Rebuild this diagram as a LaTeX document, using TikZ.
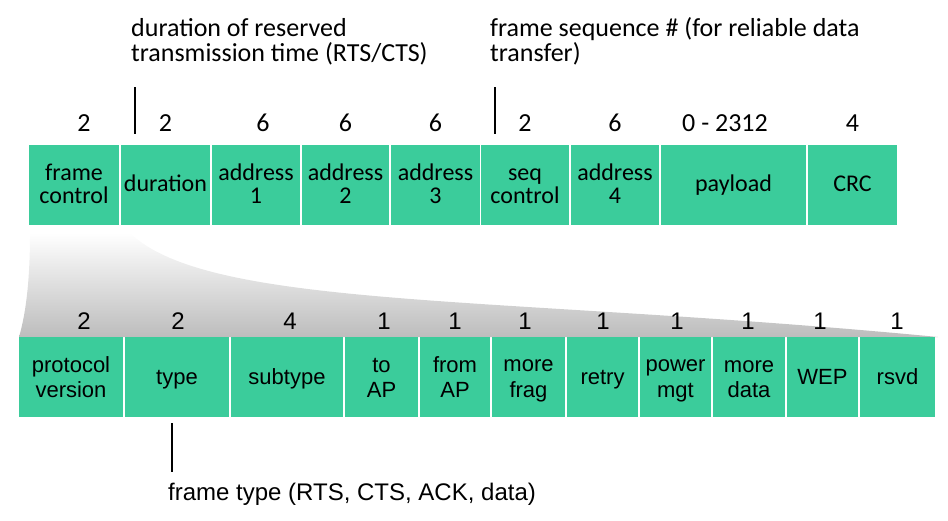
\documentclass[tikz,border=0pt]{standalone}
\usepackage{fontspec}
\setmainfont{Carlito}
\newfontfamily\arialfont{Liberation Sans}
\usepackage{tikz}
\usetikzlibrary{positioning}
\usepackage{xcolor}
\definecolor{fieldgreen}{RGB}{59,204,155}
\newcommand\topstrut{\rule[-5pt]{0pt}{23pt}}
\newcommand\botstrut{\rule[-4.5pt]{0pt}{24.5pt}}

\begin{document}
\begin{tikzpicture}[x=1pt, y=-1pt,
    topfield/.style={fill=fieldgreen, inner sep=0, minimum height=80pt, align=center,
        font=\fontsize{24}{23}\selectfont\let\fs\topstrut, execute at end node=\topstrut},
    botfield/.style={fill=fieldgreen, inner sep=0, minimum height=80pt, align=center,
        font=\arialfont\fontsize{22}{25.5}\selectfont\let\fs\botstrut, execute at end node=\botstrut},
    toplen/.style={anchor=base, inner sep=0, font=\fontsize{26}{26}\selectfont},
    botlen/.style={anchor=base, inner sep=0, font=\arialfont\fontsize{24}{24}\selectfont},
    note/.style={anchor=base west, inner sep=0, align=left, font=\fontsize{26}{25}\selectfont}]
    \useasboundingbox (0,0) rectangle (948,520);
    \shade[top color=white, bottom color=black!26] (30,233) .. controls (30,290) and (24,320) .. (19,337) -- (938,337) .. controls (500,295) and (210,310) .. (130,233) -- cycle;
    \foreach \name/\cx/\w/\txt/\nx/\num in {fc/74/90/{frame\\control}/84/2, dur/165.5/89/duration/165.5/2, ad1/256/88/{address\\1}/263/6, ad2/345.5/87/{address\\2}/345.5/6, ad3/435.5/89/{address\\3}/435.5/6, seq/525/88/{seq\\control}/525/2, ad4/615/88/{address\\4}/615/6, pay/733.5/145/payload/725/{0 - 2312}, crc/852.5/89/CRC/852.5/4}{
        \node[topfield, minimum width=\w pt] (\name) at (\cx,185) {\fs\txt};
        \node[toplen] (\name-len) at (\nx,131) {\num};
    }
    \foreach \name/\cx/\w/\txt/\nx/\num in {pv/71/104/{protocol\\version}/84/2, type/177/104/type/178/2, sub/287/112/subtype/290/4, toap/381.5/73/{to\\AP}/384/1, frap/455/70/{from\\AP}/455/1, mfrag/528.5/73/{more\\frag}/525/1, retry/602.5/71/retry/603/1, pwr/675.5/71/{power\\mgt}/677/1, mdata/749/72/{more\\data}/748/1, wep/822.5/71/WEP/820/1, rsvd/897.5/75/rsvd/897/1}{
        \node[botfield, minimum width=\w pt] (\name) at (\cx,377) {\fs\txt};
        \node[botlen] (\name-len) at (\nx,329) {\num};
    }
    \node[note] (durnote) at (131,61) {duration of reserved\\transmission time (RTS/CTS)};
    \node[note] (seqnote) at (490,61) {frame sequence \# (for reliable data\\transfer)};
    \node[anchor=base west, inner sep=0, font=\arialfont\fontsize{24}{24}\selectfont] (typenote) at (168,500) {frame type (RTS, CTS, ACK, data)};
    \coordinate (durtop) at (135,87);
    \coordinate (durtick) at (135,134);
    \coordinate (seqtop) at (495,87);
    \coordinate (seqtick) at (495,134);
    \coordinate (typetop) at (172,423);
    \coordinate (typetick) at (172,472);
    \draw[line width=1.2pt] (durtop) -- (durtick);
    \draw[line width=1.2pt] (seqtop) -- (seqtick);
    \draw[line width=1.2pt] (typetop) -- (typetick);
\end{tikzpicture}
\end{document}
